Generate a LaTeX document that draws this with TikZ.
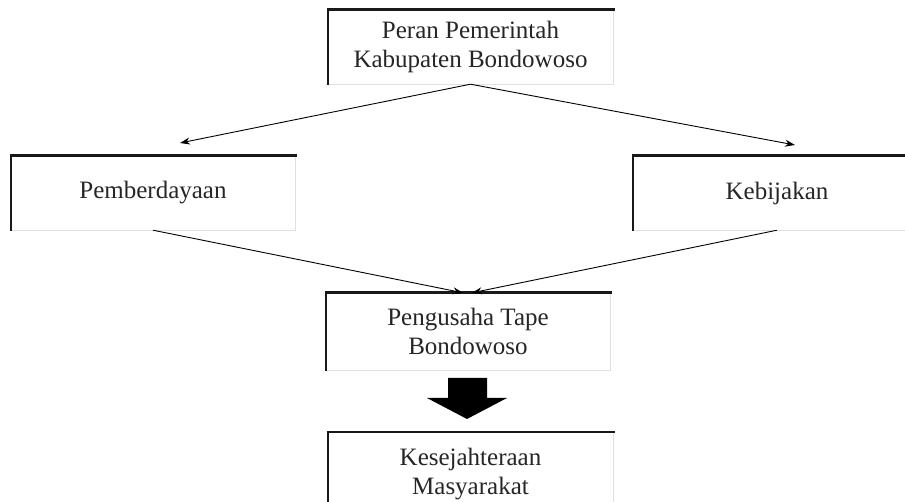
\documentclass[tikz,border=0pt]{standalone}
\usepackage{fontspec}
\setmainfont{Liberation Serif}
\usetikzlibrary{arrows.meta}
\begin{document}
\begin{tikzpicture}[x=1pt,y=-1pt,
  box/.style={minimum width=#1, minimum height=74pt, inner sep=0pt, align=center,
    font=\fontsize{25}{29}\selectfont, text=black!85},
  box/.default=285pt,
  thickedge/.style={line width=2.6pt, black!90, line cap=rect},
  thinedge/.style={line width=0.8pt, black!12},
  conn/.style={line width=0.9pt, -{Stealth[length=10pt,width=7pt]}}]
\clip (0,0) rectangle (905,502);
\fill[white] (0,0) rectangle (905,502);
\useasboundingbox (0,0) rectangle (905,502);

\node[box=285pt] (top) at (470.5,47) {Peran Pemerintah\\Kabupaten Bondowoso};
\node[box=284pt] (pem) at (153,193) {Pemberdayaan};
\node[box=288pt] (keb) at (777,193) {Kebijakan};
\node[box=284pt, minimum height=77pt] (pen) at (468,331.5) {Pengusaha Tape\\Bondowoso};
\node[box=285pt, minimum height=84pt] (kes) at (470.5,474) {Kesejahteraan\\Masyarakat};

\foreach \n in {top,pem,keb,pen,kes}{
  \draw[thinedge] (\n.north east) -- (\n.south east) -- (\n.south west);
  \draw[thickedge] (\n.south west) -- (\n.north west) -- (\n.north east);
}

\coordinate (lt) at (180,143);
\coordinate (rt) at (795,145);
\draw[conn] (top.south) -- (lt);
\draw[conn] (top.south) -- (rt);
\draw[conn] (pem.south) -- ([xshift=-5pt]pen.north);
\draw[conn] (keb.south) -- ([xshift=4pt]pen.north);

\fill[black] (448,378) -- (487,378) -- (487,398) -- (507,398) -- (467,419)
  -- (427,398) -- (448,398) -- cycle;
\end{tikzpicture}
\end{document}
